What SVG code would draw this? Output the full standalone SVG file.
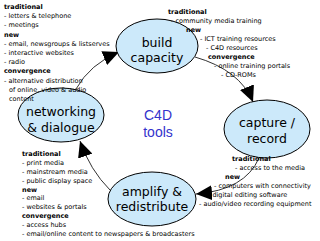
<svg xmlns="http://www.w3.org/2000/svg" width="320" height="241" viewBox="0 0 320 241">
<style>
.s{font-family:"DejaVu Sans",Verdana,sans-serif;font-size:6.5px;fill:#000}
.b{font-weight:bold}
.n{font-family:"DejaVu Sans",Verdana,sans-serif;font-size:12.5px;fill:#000;text-anchor:middle}
.e{fill:#cce9fa;stroke:#000;stroke-width:1}
.c{fill:none;stroke:#333;stroke-width:1}
</style>
<defs>
<marker id="ah" markerUnits="userSpaceOnUse" markerWidth="17" markerHeight="15" refX="16" refY="7.5" orient="auto">
<path d="M0,0 L16,7.5 L0,15 z" fill="#000"/>
</marker>
</defs>
<rect width="320" height="241" fill="#fff"/>
<g id="connectors">
<path class="c" d="M76,89 Q90,64 119,52" marker-end="url(#ah)"/>
<path class="c" d="M195,57 Q240,70 253,102" marker-end="url(#ah)"/>
<path class="c" d="M259,158 Q245,190 196,194" marker-end="url(#ah)"/>
<path class="c" d="M110,190 Q90,170 80,141" marker-end="url(#ah)"/>
</g>
<g id="build">
<ellipse class="e" cx="157" cy="46" rx="41" ry="27"/>
<text class="n" x="157" y="47">build</text>
<text class="n" x="157" y="62">capacity</text>
</g>
<g id="capture">
<ellipse class="e" cx="267" cy="129" rx="43" ry="29"/>
<text class="n" x="267" y="127">capture /</text>
<text class="n" x="267" y="143">record</text>
</g>
<g id="amplify">
<ellipse class="e" cx="152" cy="199" rx="44" ry="27"/>
<text class="n" x="152" y="196">amplify &amp;</text>
<text class="n" x="152" y="211">redistribute</text>
</g>
<g id="networking">
<ellipse class="e" cx="61" cy="115" rx="43" ry="27"/>
<text class="n" x="61" y="116">networking</text>
<text class="n" x="61" y="132">&amp; dialogue</text>
</g>
<g id="center">
<text x="158" y="120" font-family="Liberation Sans,Arial,sans-serif" font-size="14" fill="#3333cc" text-anchor="middle">C4D</text>
<text x="158" y="137" font-family="Liberation Sans,Arial,sans-serif" font-size="14" fill="#3333cc" text-anchor="middle">tools</text>
</g>
<g id="notes-network">
<text class="s b" x="4" y="9">traditional</text>
<text class="s" x="4" y="18.2">- letters &amp; telephone</text>
<text class="s" x="4" y="27.4">- meetings</text>
<text class="s b" x="4" y="36.6">new</text>
<text class="s" x="4" y="45.8">- email, newsgroups &amp; listserves</text>
<text class="s" x="4" y="55">- interactive websites</text>
<text class="s" x="4" y="64.2">- radio</text>
<text class="s b" x="4" y="73.4">convergence</text>
<text class="s" x="4" y="82.6">- alternative distribution</text>
<text class="s" x="9" y="91.8">of online, video &amp; audio</text>
<text class="s" x="9" y="101">content</text>
</g>
<g id="notes-build">
<text class="s b" x="168" y="14">traditional</text>
<text class="s" x="171" y="23">- community media training</text>
<text class="s b" x="186" y="32">new</text>
<text class="s" x="200" y="41">- ICT training resources</text>
<text class="s" x="206" y="50">- C4D resources</text>
<text class="s b" x="208" y="59">convergence</text>
<text class="s" x="214" y="68">- online training portals</text>
<text class="s" x="221" y="77">- CD-ROMs</text>
</g>
<g id="notes-capture">
<text class="s b" x="232" y="161">traditional</text>
<text class="s" x="235" y="170">- access to the media</text>
<text class="s b" x="225" y="179">new</text>
<text class="s" x="214" y="188">- computers with connectivity</text>
<text class="s" x="208" y="197">- digital editing software</text>
<text class="s" x="199" y="205.5">- audio/video recording equipment</text>
</g>
<g id="notes-amplify">
<text class="s b" x="22" y="155.5">traditional</text>
<text class="s" x="22" y="164.5">- print media</text>
<text class="s" x="22" y="173.5">- mainstream media</text>
<text class="s" x="22" y="182.5">- public display space</text>
<text class="s b" x="22" y="191.5">new</text>
<text class="s" x="22" y="200">- email</text>
<text class="s" x="22" y="208.5">- websites &amp; portals</text>
<text class="s b" x="22" y="217.5">convergence</text>
<text class="s" x="22" y="226.5">- access hubs</text>
<text class="s" x="22" y="235.5">- email/online content to newspapers &amp; broadcasters</text>
</g>
</svg>
